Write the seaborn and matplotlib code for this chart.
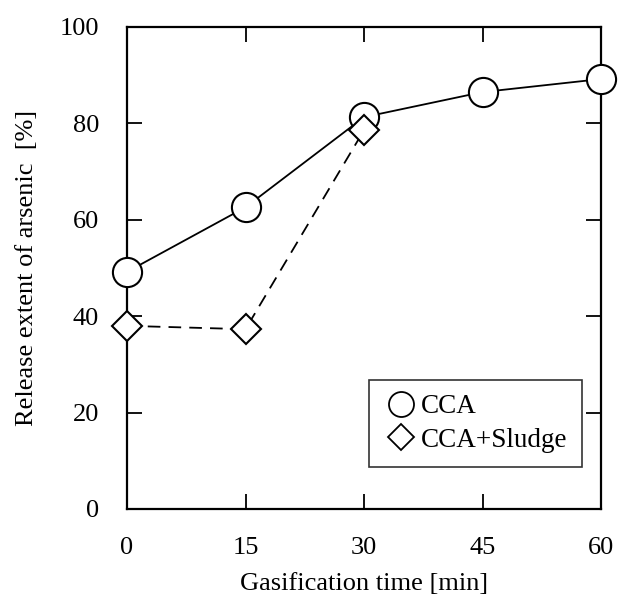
import matplotlib
matplotlib.use("Agg")
import matplotlib.pyplot as plt
import seaborn as sns
import pandas as pd
from matplotlib.lines import Line2D

times = [0, 15, 30, 45, 60]
cca = [49.2, 62.6, 81.3, 86.5, 89.2]
sludge_times = [0, 15, 30]
sludge = [38.0, 37.3, 78.6]
xticks = [0, 15, 30, 45, 60]
yticks = [0, 20, 40, 60, 80, 100]

sns.set_theme(style="ticks")
plt.rcParams['font.family'] = ['Liberation Serif', 'DejaVu Serif']
plt.rcParams['text.color'] = 'black'
plt.rcParams['axes.labelcolor'] = 'black'
plt.rcParams['xtick.color'] = 'black'
plt.rcParams['ytick.color'] = 'black'

fig = plt.figure(figsize=(6.3, 5.96), dpi=100)
ax = fig.add_axes([0.2016, 0.146, 0.7524, 0.8087])

df1 = pd.DataFrame({"t": times, "v": cca})
df2 = pd.DataFrame({"t": sludge_times, "v": sludge})

sns.lineplot(data=df1, x="t", y="v", ax=ax, color="black", linewidth=1.3,
             marker="o", markersize=21, markerfacecolor="white",
             markeredgecolor="black", markeredgewidth=1.5, clip_on=False, zorder=3)
sns.lineplot(data=df2, x="t", y="v", ax=ax, color="black", linewidth=1.3,
             linestyle=(0, (7, 4.5)), marker="D", markersize=15,
             markerfacecolor="white", markeredgecolor="black",
             markeredgewidth=1.5, clip_on=False, zorder=4)

ax.set_xlim(0, 60)
ax.set_ylim(0, 100)
ax.set_xticks(xticks)
ax.set_yticks(yticks)
ax.tick_params(direction="in", length=11, width=1.3, top=True, right=True,
               labelsize=19, colors="black")
ax.tick_params(axis="y", pad=20)
ax.tick_params(axis="x", pad=20)
for s in ax.spines.values():
    s.set_linewidth(1.6)
    s.set_color("black")

ax.set_xlabel("Gasification time [min]", fontsize=19, labelpad=10, color="black")
ax.set_ylabel("Release extent of arsenic  [%]", fontsize=19, labelpad=16, color="black")

handles = [
    Line2D([], [], linestyle="none", marker="o", markersize=18,
           markerfacecolor="white", markeredgecolor="black", markeredgewidth=1.3),
    Line2D([], [], linestyle="none", marker="D", markersize=13.5,
           markerfacecolor="white", markeredgecolor="black", markeredgewidth=1.3),
]
leg = ax.legend(handles, ["CCA", "CCA+Sludge"], loc="lower right",
                bbox_to_anchor=(0.960, 0.087), fontsize=19.5, frameon=True,
                fancybox=False, edgecolor="black", handlelength=1.3,
                handletextpad=0.1, borderpad=0.53, labelspacing=0.32,
                borderaxespad=0)
leg.get_frame().set_linewidth(1.2)
for t in leg.get_texts():
    t.set_color("black")

fig.savefig("out.png", dpi=100)
